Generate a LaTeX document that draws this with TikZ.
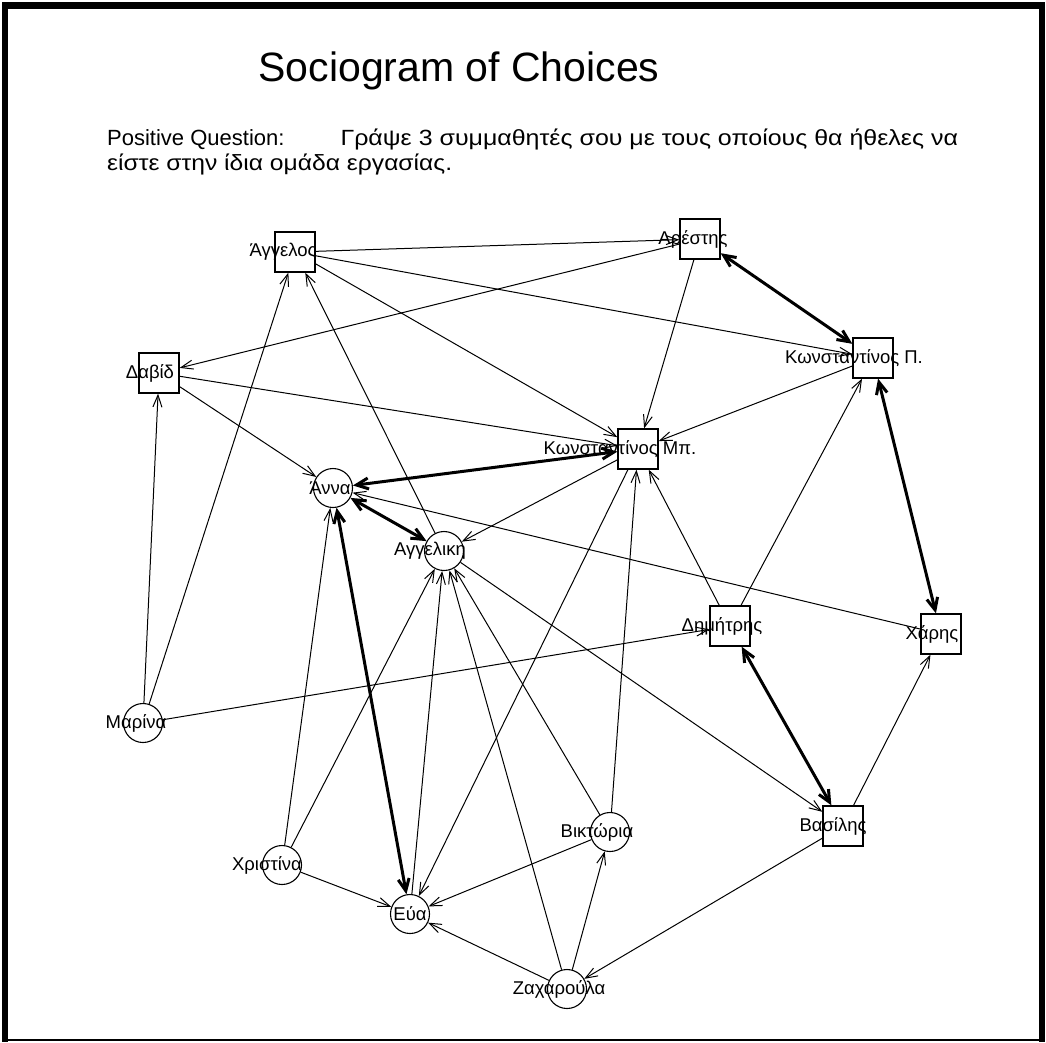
\documentclass[tikz,border=0pt]{standalone}
\usepackage{fontspec}
\setmainfont{Liberation Sans}
\usetikzlibrary{arrows.meta}
\begin{document}
\begin{tikzpicture}[x=1pt,y=-1pt,
  sq/.style={draw,line width=1.3pt,rectangle,minimum size=40pt,inner sep=0pt},
  ci/.style={draw,line width=1.1pt,circle,minimum size=39pt,inner sep=0pt},
  lab/.style={font=\fontsize{18.5}{18.5}\selectfont,inner sep=0pt},
  thinarr/.style={line width=1pt,-{Straight Barb[length=12pt,width=9pt]}},
  mutual/.style={line width=3pt,{Straight Barb[length=12pt,width=11pt]}-{Straight Barb[length=12pt,width=11pt]}},
]
\useasboundingbox (0,0) rectangle (1046,1042);
\fill[white] (0,0) rectangle (1046,1042);
% frame
\fill[black] (2,2) rectangle (8,1042);
\fill[black] (2,2) rectangle (1045,9);
\fill[black] (1039,2) rectangle (1045,1042);
\draw[line width=2pt] (2,1040) -- (1045,1040);
% title
\node[anchor=base,font=\fontsize{41}{41}\selectfont,inner sep=0pt] (title) at (459,81) {Sociogram of Choices};
\node[anchor=base west,font=\fontsize{22}{22}\selectfont,inner sep=0pt] (q1) at (107,145) {Positive Question:\hspace{56pt}\scalebox{1.135}[1]{Γράψε 3 συμμαθητές σου με τους οποίους θα ήθελες να}};
\node[anchor=base west,font=\fontsize{22}{22}\selectfont,inner sep=0pt] (q2) at (107,170) {\scalebox{1.12}[1]{είστε στην ίδια ομάδα εργασίας.}};
% vertices
\node[sq] (A1) at (295,252) {};
\node[sq] (Ar) at (700,239) {};
\node[sq] (KP) at (873,358) {};
\node[sq] (Da) at (159,373) {};
\node[sq] (KM) at (638,449) {};
\node[ci] (An) at (333,488) {};
\node[ci] (Ag) at (444,551) {};
\node[sq] (Di) at (730,626) {};
\node[sq] (Xa) at (941,634) {};
\node[sq] (Va) at (843,826) {};
\node[ci] (Ma) at (143,723) {};
\node[ci] (Xr) at (282,865) {};
\node[ci] (Eu) at (410,914) {};
\node[ci] (Vi) at (610,832) {};
\node[ci] (Za) at (567,989) {};
% thin choices
\draw[thinarr] (A1) -- (Ar);
\draw[thinarr] (A1) -- (KP);
\draw[thinarr] (A1) -- (KM);
\draw[thinarr] (Ar) -- (Da);
\draw[thinarr] (Ar) -- (KM);
\draw[thinarr] (KP) -- (KM);
\draw[thinarr] (Da) -- (KM);
\draw[thinarr] (Da) -- (An);
\draw[thinarr] (KM) -- (Ag);
\draw[thinarr] (KM) -- (Eu);
\draw[thinarr] (Ag) -- (A1);
\draw[thinarr] (Ag) -- (Va);
\draw[thinarr] (Eu) -- (Ag);
\draw[thinarr] (Xa) -- (An);
\draw[thinarr] (Ma) -- (Da);
\draw[thinarr] (Ma) -- (A1);
\draw[thinarr] (Ma) -- (Di);
\draw[thinarr] (Xr) -- (An);
\draw[thinarr] (Xr) -- (Ag);
\draw[thinarr] (Xr) -- (Eu);
\draw[thinarr] (Vi) -- (KM);
\draw[thinarr] (Vi) -- (Ag);
\draw[thinarr] (Vi) -- (Eu);
\draw[thinarr] (Za) -- (Vi);
\draw[thinarr] (Za) -- (Ag);
\draw[thinarr] (Za) -- (Eu);
\draw[thinarr] (Di) -- (KM);
\draw[thinarr] (Di) -- (KP);
\draw[thinarr] (Va) -- (Xa);
\draw[thinarr] (Va) -- (Za);
% mutual choices
\draw[mutual] (Ar) -- (KP);
\draw[mutual] (KP) -- (Xa);
\draw[mutual] (KM) -- (An);
\draw[mutual] (An) -- (Ag);
\draw[mutual] (An) -- (Eu);
\draw[mutual] (Di) -- (Va);
% labels
\node[lab] (lA1) at (283,252) {Άγγελος};
\node[lab] (lAr) at (693,239) {Αρέστης};
\node[lab] (lKP) at (854,358) {Κωνσταντίνος Π.};
\node[lab] (lDa) at (150,373) {Δαβίδ};
\node[lab] (lKM) at (620,449) {Κωνσταντίνος Μπ.};
\node[lab] (lAn) at (330,488) {Άννα};
\node[lab] (lAg) at (430,551) {Αγγελικη};
\node[lab] (lDi) at (722,626) {Δημήτρης};
\node[lab] (lXa) at (932,634) {Χάρης};
\node[lab] (lVa) at (833,826) {Βασίλης};
\node[lab] (lMa) at (136,723) {Μαρίνα};
\node[lab] (lXr) at (267,865) {Χριστίνα};
\node[lab] (lEu) at (410,914) {Εύα};
\node[lab] (lVi) at (597,832) {Βικτώρια};
\node[lab] (lZa) at (559,989) {Ζαχαρούλα};
\end{tikzpicture}
\end{document}
